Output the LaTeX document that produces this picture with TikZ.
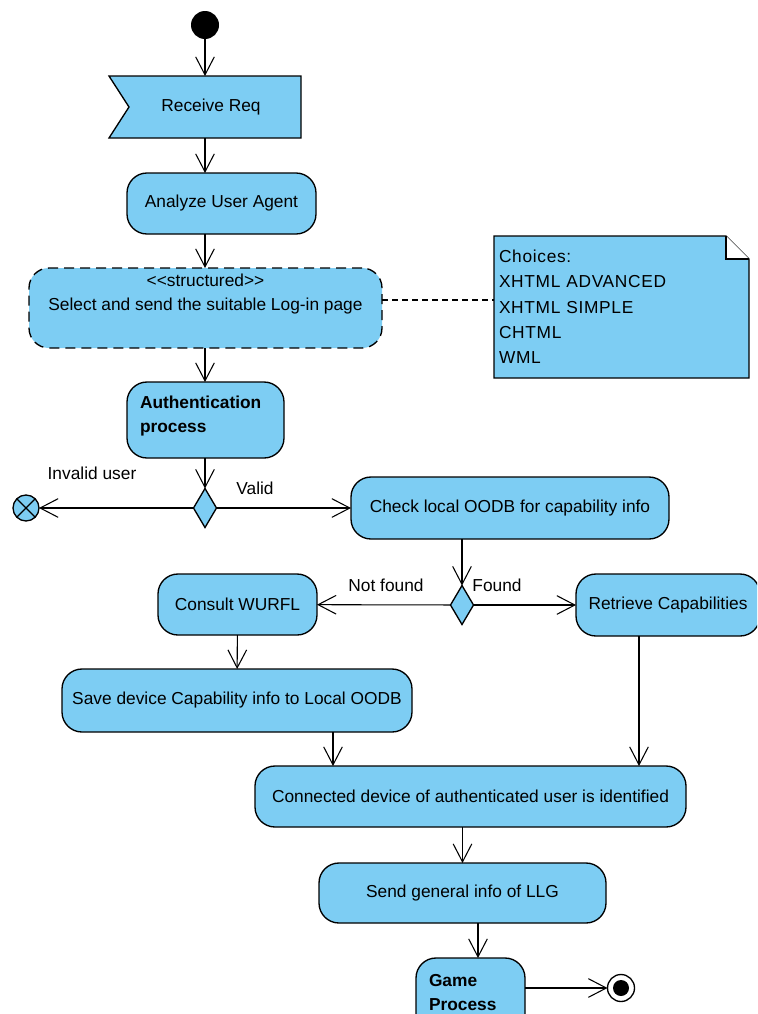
\documentclass[tikz,border=0pt]{standalone}
\usepackage{fontspec}
\setmainfont{Liberation Sans}
\usetikzlibrary{arrows.meta,shapes.geometric,backgrounds,calc}
\definecolor{actblue}{RGB}{125,205,243}
\begin{document}
\begin{tikzpicture}[x=0.75pt,y=-0.75pt,
  every node/.style={font=\fontsize{13pt}{18pt}\selectfont},
  >={Straight Barb[length=13.5pt,width=14pt]},
  flow/.style={->,line width=0.8pt},
  act/.style={draw,fill=actblue,line width=1pt,rounded corners=15pt,inner sep=0pt,align=center,outer sep=0pt},
  boldact/.style={act,align=left,font=\fontsize{13pt}{18pt}\selectfont\bfseries},
  decision/.style={diamond,draw,fill=actblue,line width=1pt,minimum width=23*0.75pt,minimum height=39*0.75pt,inner sep=0pt,outer sep=0pt},
  guard/.style={inner sep=0pt},
]
\path[use as bounding box, clip] (0,0) rectangle (757,1014);

% start
\node[circle,fill=black,minimum size=28*0.75pt,inner sep=0pt,outer sep=0pt] (start) at (205,25) {};

% receive signal
\node[minimum width=192*0.75pt,minimum height=62*0.75pt,inner sep=0pt,outer sep=0pt] (recv) at (205,107) {\hspace*{9pt}Receive Req};
\begin{scope}[on background layer]
  \draw[fill=actblue,line width=1pt] (recv.north west) -- (recv.north east) -- (recv.south east) -- (recv.south west) -- ($(recv.west)+(20,0)$) -- cycle;
\end{scope}

\node[act,minimum width=189*0.75pt,minimum height=61*0.75pt] (analyze) at (221.5,203.5) {Analyze User Agent};

\node[act,dash pattern=on 7.5pt off 4.5pt,minimum width=353*0.75pt,minimum height=80*0.75pt,text depth=24pt] (struct) at (205.5,308) {<{}<structured>{}>\\Select and send the suitable Log-in page};

% note
\node[inner xsep=5*0.75pt,inner ysep=0pt,outer sep=0pt,text width=245*0.75pt,align=left,minimum height=142*0.75pt,font=\fontsize{13pt}{19pt}\selectfont\addfontfeatures{LetterSpace=4}] (note) at (621.5,307) {Choices:\\XHTML ADVANCED\\XHTML SIMPLE\\CHTML\\WML};
\begin{scope}[on background layer]
  \draw[fill=actblue,line width=1pt] (note.north west) -- ([xshift=-17.25pt]note.north east) -- ([yshift=-17.25pt]note.north east) -- (note.south east) -- (note.south west) -- cycle;
  \draw[fill=white,line width=1pt] ([xshift=-17.25pt]note.north east) -- ([xshift=-17.25pt,yshift=-17.25pt]note.north east) -- ([yshift=-17.25pt]note.north east);
\end{scope}
\coordinate (dl) at (0,300);
\draw[line width=0.8pt,dash pattern=on 4.5pt off 3pt] (struct.east |- dl) -- (note.west |- dl);

\node[boldact,minimum width=157*0.75pt,minimum height=76*0.75pt,text width=131*0.75pt,text depth=26pt] (auth) at (205.5,420) {Authentication\\process};

\node[decision] (d1) at (205,508) {};
\node[circle,draw,fill=actblue,line width=1pt,minimum size=26*0.75pt,inner sep=0pt,outer sep=0pt] (ff) at (26,508) {};
\draw[line width=1pt] (ff.north west) -- (ff.south east) (ff.north east) -- (ff.south west);

\node[act,minimum width=318*0.75pt,minimum height=62*0.75pt] (check) at (510,508) {Check local OODB for capability info};

\node[decision] (d2) at (462,605) {};
\node[act,minimum width=159*0.75pt,minimum height=61*0.75pt] (consult) at (237.5,604.5) {Consult WURFL};
\node[act,minimum width=184*0.75pt,minimum height=62*0.75pt] (retrieve) at (668,605) {Retrieve Capabilities};
\node[act,minimum width=350*0.75pt,minimum height=63*0.75pt] (save) at (237,700.5) {Save device Capability info to Local OODB};
\node[act,minimum width=431*0.75pt,minimum height=61*0.75pt] (connected) at (470.5,796.5) {Connected device of authenticated user is identified};
\node[act,minimum width=287*0.75pt,minimum height=60*0.75pt] (send) at (462.5,893) {Send general info of LLG};
\node[boldact,minimum width=109*0.75pt,minimum height=76*0.75pt,text width=83*0.75pt,text depth=23pt] (game) at (470.5,996) {Game\\Process};

\node[circle,draw,fill=white,line width=1pt,minimum size=27*0.75pt,inner sep=0pt,outer sep=0pt] (af) at (621,988) {};
\node[circle,fill=black,minimum size=16*0.75pt,inner sep=0pt] (afin) at (af) {};

% guards
\node[guard] (lInvalid) at (92,473) {Invalid user};
\node[guard] (lValid) at (255,488) {Valid};
\node[guard] (lNot) at (386,585) {Not found};
\node[guard] (lFound) at (497,585) {Found};

% flows
\draw[flow] (start) -- (recv);
\draw[flow] (recv) -- (analyze.north -| recv);
\draw[flow] (analyze.south -| recv) -- (struct.north -| recv);
\draw[flow] (struct.south -| recv) -- (auth.north -| recv);
\draw[flow] (auth.south -| d1) -- (d1);
\draw[flow] (d1) -- (ff);
\draw[flow] (d1) -- (check);
\draw[flow] (check.south -| d2) -- (d2);
\draw[flow] (d2) -- (consult);
\draw[flow] (d2) -- (retrieve);
\draw[flow] (consult) -- (save);
\coordinate (xa) at (333,0);
\coordinate (xb) at (639,0);
\coordinate (xc) at (478,0);
\draw[flow] (save.south -| xa) -- (connected.north -| xa);
\draw[flow] (retrieve.south -| xb) -- (connected.north -| xb);
\draw[flow] (connected.south -| send) -- (send);
\draw[flow] (send.south -| xc) -- (game.north -| xc);
\draw[flow] (game.east |- af) -- (af);
\end{tikzpicture}
\end{document}
